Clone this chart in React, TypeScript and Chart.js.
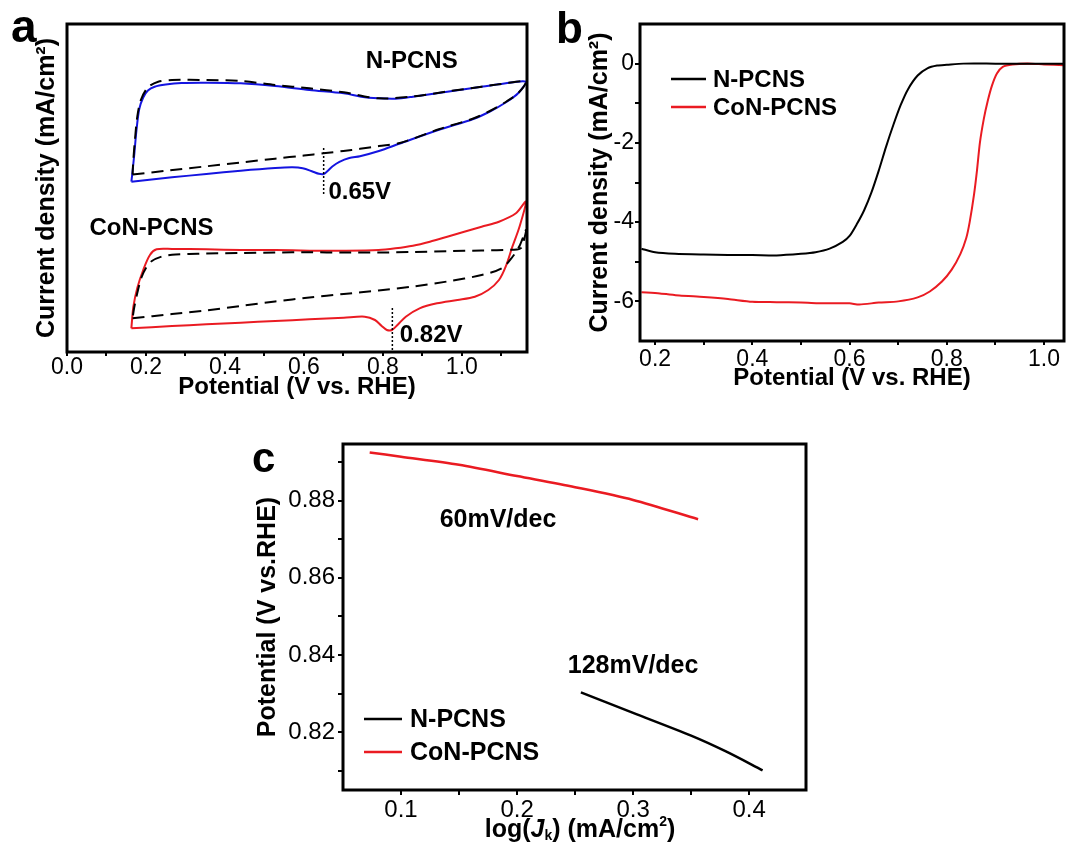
import React, { useEffect, useRef } from 'react';
import { Chart, registerables } from 'chart.js';

Chart.register(...registerables);

const FAMILY = "'Liberation Sans', Arial, Helvetica, sans-serif";
Chart.defaults.font.family = FAMILY;

const RED = '#ea1b22';
const BLUE = '#1414e0';
const BLACK = '#000000';

// ---------------- Panel a: cyclic voltammograms (arbitrary current units) ----------------
const cvNV = [0.163, 0.266, 0.353, 0.440, 0.527, 0.571, 0.597, 0.623, 0.638, 0.650, 0.660, 0.672, 0.690, 0.715, 0.742, 0.790, 0.843, 0.944, 1.029, 1.071, 1.113, 1.143, 1.162, 1.100, 1.050, 0.963, 0.876, 0.832, 0.789, 0.745, 0.701, 0.614, 0.527, 0.440, 0.353, 0.290, 0.250, 0.222, 0.205, 0.193, 0.183, 0.176, 0.170, 0.165, 0.163];
const cvNJ = [0.063, 0.107, 0.140, 0.173, 0.200, 0.207, 0.197, 0.163, 0.142, 0.140, 0.170, 0.215, 0.262, 0.300, 0.318, 0.370, 0.445, 0.585, 0.690, 0.765, 0.860, 0.950, 1.063, 1.040, 1.013, 0.963, 0.913, 0.893, 0.897, 0.913, 0.947, 0.980, 1.020, 1.047, 1.053, 1.050, 1.035, 1.013, 0.975, 0.905, 0.790, 0.580, 0.320, 0.130, 0.063];
const cvNRefV = [0.166, 0.260, 0.353, 0.440, 0.527, 0.600, 0.649, 0.700, 0.742, 0.790, 0.843, 0.944, 1.029, 1.071, 1.113, 1.143, 1.162, 1.100, 1.050, 0.963, 0.876, 0.789, 0.701, 0.614, 0.527, 0.440, 0.353, 0.266, 0.231, 0.205, 0.187, 0.178, 0.172, 0.168, 0.166];
const cvNRefJ = [0.135, 0.176, 0.217, 0.255, 0.293, 0.325, 0.347, 0.370, 0.392, 0.420, 0.450, 0.590, 0.695, 0.770, 0.865, 0.950, 1.063, 1.040, 1.013, 0.965, 0.915, 0.897, 0.957, 0.997, 1.030, 1.070, 1.080, 1.080, 1.063, 1.007, 0.880, 0.713, 0.480, 0.280, 0.135];
const cvCV = [0.163, 0.266, 0.353, 0.440, 0.527, 0.614, 0.701, 0.754, 0.780, 0.797, 0.810, 0.823, 0.837, 0.858, 0.893, 0.937, 0.989, 1.033, 1.067, 1.094, 1.111, 1.128, 1.146, 1.162, 1.137, 1.094, 1.050, 1.006, 0.963, 0.919, 0.876, 0.832, 0.789, 0.701, 0.614, 0.527, 0.440, 0.353, 0.266, 0.227, 0.210, 0.193, 0.178, 0.168, 0.163];
const cvCJ = [-1.403, -1.380, -1.363, -1.347, -1.330, -1.313, -1.297, -1.287, -1.320, -1.380, -1.420, -1.420, -1.370, -1.287, -1.203, -1.153, -1.120, -1.087, -1.020, -0.920, -0.787, -0.587, -0.387, -0.137, -0.253, -0.337, -0.387, -0.437, -0.487, -0.537, -0.577, -0.603, -0.620, -0.627, -0.627, -0.620, -0.620, -0.613, -0.610, -0.613, -0.670, -0.820, -1.000, -1.190, -1.403];
const cvCRefV = [0.166, 0.266, 0.353, 0.440, 0.527, 0.614, 0.701, 0.789, 0.876, 0.963, 1.050, 1.102, 1.128, 1.146, 1.162, 1.150, 1.128, 1.050, 0.963, 0.876, 0.789, 0.701, 0.614, 0.527, 0.440, 0.353, 0.309, 0.266, 0.240, 0.215, 0.200, 0.188, 0.178, 0.170, 0.166];
const cvCRefJ = [-1.303, -1.260, -1.225, -1.180, -1.135, -1.095, -1.060, -1.025, -0.985, -0.935, -0.870, -0.800, -0.690, -0.580, -0.420, -0.600, -0.617, -0.625, -0.632, -0.640, -0.645, -0.645, -0.643, -0.645, -0.650, -0.655, -0.660, -0.668, -0.685, -0.730, -0.800, -0.900, -1.050, -1.200, -1.303];
const peakNV = [0.65, 0.65];
const peakNJ = [0.40, -0.07];
const peakCV = [0.824, 0.824];
const peakCJ = [-1.20, -1.64];
const aXTicks = [0, 0.1, 0.2, 0.3, 0.4, 0.5, 0.6, 0.7, 0.8, 0.9, 1.0, 1.1];
const aXLabels = [0, 0.2, 0.4, 0.6, 0.8, 1.0];
const aTexts = [
  { text: 'N-PCNS', x: 0.873, y: 1.263, align: 'center' },
  { text: '0.65V', x: 0.662, y: -0.045, align: 'left' },
  { text: 'CoN-PCNS', x: 0.214, y: -0.400, align: 'center' },
  { text: '0.82V', x: 0.843, y: -1.470, align: 'left' },
];

// ---------------- Panel b: LSV curves ----------------
const lsvNV = [0.172, 0.200, 0.241, 0.300, 0.350, 0.400, 0.450, 0.500, 0.530, 0.559, 0.586, 0.600, 0.615, 0.630, 0.645, 0.660, 0.675, 0.690, 0.705, 0.720, 0.740, 0.760, 0.780, 0.800, 0.834, 0.900, 1.000, 1.041];
const lsvNJ = [-4.67, -4.76, -4.80, -4.82, -4.83, -4.83, -4.84, -4.80, -4.76, -4.67, -4.50, -4.35, -4.05, -3.70, -3.25, -2.70, -2.10, -1.55, -1.05, -0.65, -0.30, -0.12, -0.05, -0.03, 0.00, 0.00, 0.00, 0.00];
const lsvCV = [0.172, 0.210, 0.250, 0.300, 0.350, 0.400, 0.450, 0.500, 0.550, 0.600, 0.620, 0.660, 0.700, 0.740, 0.765, 0.790, 0.810, 0.828, 0.840, 0.847, 0.856, 0.862, 0.868, 0.876, 0.884, 0.893, 0.903, 0.915, 0.935, 0.966, 1.000, 1.041];
const lsvCJ = [-5.77, -5.80, -5.85, -5.89, -5.94, -6.01, -6.02, -6.03, -6.05, -6.05, -6.08, -6.03, -6.00, -5.90, -5.75, -5.50, -5.20, -4.80, -4.40, -4.00, -3.30, -2.70, -2.00, -1.40, -0.95, -0.55, -0.25, -0.08, -0.02, 0.00, -0.02, -0.04];
const bXTicks = [0.2, 0.3, 0.4, 0.5, 0.6, 0.7, 0.8, 0.9, 1.0];
const bXLabels = [0.2, 0.4, 0.6, 0.8, 1.0];
const bYTicks = [-6, -5, -4, -3, -2, -1, 0];
const bYLabels = [-6, -4, -2, 0];

// ---------------- Panel c: Tafel plots ----------------
const tafNX = [0.255, 0.300, 0.350, 0.380, 0.4116];
const tafNY = [0.8303, 0.8250, 0.8191, 0.8150, 0.8101];
const tafCX = [0.073, 0.100, 0.150, 0.200, 0.250, 0.300, 0.356];
const tafCY = [0.8925, 0.8914, 0.8893, 0.8864, 0.8835, 0.8802, 0.8752];
const cXTicks = [0.1, 0.15, 0.2, 0.25, 0.3, 0.35, 0.4];
const cXLabels = [0.1, 0.2, 0.3, 0.4];
const cYTicks = [0.81, 0.82, 0.83, 0.84, 0.85, 0.86, 0.87, 0.88, 0.89];
const cYLabels = [0.82, 0.84, 0.86, 0.88];
const cTexts = [
  { text: '60mV/dec', x: 0.1836, y: 0.8750, align: 'center' },
  { text: '128mV/dec', x: 0.300, y: 0.8372, align: 'center' },
];

const seriesNames = ['N-PCNS', 'CoN-PCNS'];

// ---------------- helpers ----------------
const zip = (xs: number[], ys: number[]) => xs.map((x, i) => ({ x, y: ys[i] }));
const has = (arr: number[], v: number) => arr.some((l) => Math.abs(l - v) < 1e-9);

type AxisOpts = {
  position: 'left' | 'bottom';
  min: number;
  max: number;
  ticks: number[];
  labels: number[];
  fmt: (v: number) => string;
  box: number;
  tickLen: number;
  pad: number;
  showTicks: boolean;
  fontSize: number;
  title?: { text: string; size: number; pad: number };
};

function axis(o: AxisOpts) {
  return {
    type: 'linear',
    position: o.position,
    min: o.min,
    max: o.max,
    afterBuildTicks: (s: any) => {
      s.ticks = o.ticks.map((v) => ({ value: v }));
    },
    afterFit: (s: any) => {
      if (o.position === 'bottom') s.height = o.box;
      else s.width = o.box;
    },
    grid: {
      display: o.showTicks,
      drawOnChartArea: false,
      drawTicks: true,
      tickLength: o.tickLen,
      color: BLACK,
      lineWidth: 2,
    },
    border: { display: false },
    ticks: {
      display: o.showTicks,
      autoSkip: false,
      maxRotation: 0,
      minRotation: 0,
      padding: o.pad,
      color: BLACK,
      font: { family: FAMILY, size: o.fontSize, lineHeight: 1 },
      callback: (v: any) => (has(o.labels, Number(v)) ? o.fmt(Number(v)) : ''),
    },
    title: o.title
      ? {
          display: true,
          text: o.title.text,
          color: BLACK,
          font: { family: FAMILY, size: o.title.size, weight: 'bold', lineHeight: 1.2 },
          padding: o.position === 'bottom' ? { top: 0, bottom: o.title.pad } : { top: o.title.pad, bottom: 0 },
        }
      : { display: false },
  };
}

type Decor = {
  letter: { text: string; x: number; y: number; size: number };
  texts?: { text: string; x: number; y: number; align: string }[];
  textSize?: number;
  legend?: { colors: string[]; x0: number; x1: number; tx: number; ys: number[]; size: number };
  rich?: { segs: { text: string; size: number; italic?: boolean; dy?: number }[]; cx: number; base: number };
};

function makeDecor(d: Decor) {
  return {
    id: 'decor',
    afterDraw(chart: any) {
      const { ctx, chartArea: ca, scales } = chart;
      ctx.save();
      ctx.strokeStyle = BLACK;
      ctx.lineWidth = 3;
      ctx.strokeRect(ca.left, ca.top, ca.right - ca.left, ca.bottom - ca.top);
      ctx.fillStyle = BLACK;
      ctx.textBaseline = 'middle';
      for (const t of d.texts || []) {
        ctx.font = `bold ${d.textSize || 24}px ${FAMILY}`;
        ctx.textAlign = t.align;
        ctx.fillText(t.text, scales.x.getPixelForValue(t.x), scales.y.getPixelForValue(t.y));
      }
      if (d.legend) {
        const L = d.legend;
        L.ys.forEach((y, i) => {
          ctx.strokeStyle = L.colors[i];
          ctx.lineWidth = 2.5;
          ctx.beginPath();
          ctx.moveTo(L.x0, y);
          ctx.lineTo(L.x1, y);
          ctx.stroke();
          ctx.fillStyle = BLACK;
          ctx.font = `bold ${L.size}px ${FAMILY}`;
          ctx.textAlign = 'left';
          ctx.textBaseline = 'middle';
          ctx.fillText(seriesNames[i], L.tx, y + 1);
        });
      }
      if (d.rich) {
        const R = d.rich;
        const fonts = R.segs.map((s) => `${s.italic ? 'italic ' : ''}bold ${s.size}px ${FAMILY}`);
        const widths = R.segs.map((s, i) => {
          ctx.font = fonts[i];
          return ctx.measureText(s.text).width;
        });
        let x = R.cx - widths.reduce((a, b) => a + b, 0) / 2;
        ctx.textAlign = 'left';
        ctx.textBaseline = 'alphabetic';
        ctx.fillStyle = BLACK;
        R.segs.forEach((s, i) => {
          ctx.font = fonts[i];
          ctx.fillText(s.text, x, R.base + (s.dy || 0));
          x += widths[i];
        });
      }
      ctx.font = `bold ${d.letter.size}px ${FAMILY}`;
      ctx.textAlign = 'left';
      ctx.textBaseline = 'alphabetic';
      ctx.fillStyle = BLACK;
      ctx.fillText(d.letter.text, d.letter.x, d.letter.y);
      ctx.restore();
    },
  };
}

function line(data: { x: number; y: number }[], color: string, width: number, extra: any = {}) {
  return {
    data,
    borderColor: color,
    backgroundColor: color,
    borderWidth: width,
    pointRadius: 0,
    fill: false,
    ...extra,
  };
}

const baseOptions = (padding: any, scales: any) => ({
  responsive: false,
  maintainAspectRatio: false,
  animation: false,
  events: [],
  layout: { padding },
  plugins: { legend: { display: false }, tooltip: { enabled: false }, title: { display: false } },
  scales,
});

function configA() {
  return {
    type: 'line',
    data: {
      datasets: [
        line(zip(cvNRefV, cvNRefJ), BLACK, 2, { borderDash: [12, 7], tension: 0.3, order: 0 }),
        line(zip(cvCRefV, cvCRefJ), BLACK, 2, { borderDash: [12, 7], tension: 0.3, order: 0 }),
        line(zip(peakNV, peakNJ), BLACK, 1.5, { borderDash: [2, 2], order: 0 }),
        line(zip(peakCV, peakCJ), BLACK, 1.5, { borderDash: [2, 2], order: 0 }),
        line(zip(cvNV, cvNJ), BLUE, 2, { tension: 0.3, order: 1 }),
        line(zip(cvCV, cvCJ), RED, 2, { tension: 0.3, order: 1 }),
      ],
    },
    options: baseOptions(
      { left: 0, top: 24, right: 13, bottom: 0 },
      {
        x: axis({
          position: 'bottom', min: 0, max: 1.165, ticks: aXTicks, labels: aXLabels,
          fmt: (v) => v.toFixed(1), box: 58, tickLen: 4, pad: 0, showTicks: true, fontSize: 23,
          title: { text: 'Potential (V vs. RHE)', size: 24, pad: 8 },
        }),
        y: axis({
          position: 'left', min: -1.64, max: 1.64, ticks: [], labels: [],
          fmt: (v) => String(v), box: 67, tickLen: 0, pad: 0, showTicks: false, fontSize: 23,
          title: { text: 'Current density (mA/cm²)', size: 25, pad: 32 },
        }),
      }
    ),
    plugins: [
      makeDecor({ letter: { text: 'a', x: 11, y: 42, size: 46 }, texts: aTexts, textSize: 24 }),
    ],
  };
}

function configB() {
  return {
    type: 'line',
    data: {
      datasets: [
        line(zip(lsvNV, lsvNJ), BLACK, 2, { tension: 0.25 }),
        line(zip(lsvCV, lsvCJ), RED, 2, { tension: 0.25 }),
      ],
    },
    options: baseOptions(
      { left: 0, top: 24, right: 3, bottom: 0 },
      {
        x: axis({
          position: 'bottom', min: 0.169, max: 1.041, ticks: bXTicks, labels: bXLabels,
          fmt: (v) => v.toFixed(1), box: 69, tickLen: 4, pad: 3, showTicks: true, fontSize: 23,
          title: { text: 'Potential (V vs. RHE)', size: 24, pad: 17 },
        }),
        y: axis({
          position: 'left', min: -7, max: 1, ticks: bYTicks, labels: bYLabels,
          fmt: (v) => String(v), box: 100, tickLen: 5, pad: 1, showTicks: true, fontSize: 23,
          title: { text: 'Current density (mA/cm²)', size: 25, pad: 45 },
        }),
      }
    ),
    plugins: [
      makeDecor({
        letter: { text: 'b', x: 16, y: 43, size: 44 },
        legend: { colors: [BLACK, RED], x0: 131, x1: 166, tx: 173, ys: [79, 107], size: 24 },
      }),
    ],
  };
}

function configC() {
  return {
    type: 'line',
    data: {
      datasets: [
        line(zip(tafNX, tafNY), BLACK, 2.5, { tension: 0.3 }),
        line(zip(tafCX, tafCY), RED, 2.5, { tension: 0.3 }),
      ],
    },
    options: baseOptions(
      { left: 0, top: 24, right: 14, bottom: 0 },
      {
        x: axis({
          position: 'bottom', min: 0.05, max: 0.449, ticks: cXTicks, labels: cXLabels,
          fmt: (v) => v.toFixed(1), box: 62, tickLen: 5, pad: 3, showTicks: true, fontSize: 24,
        }),
        y: axis({
          position: 'left', min: 0.805, max: 0.8947, ticks: cYTicks, labels: cYLabels,
          fmt: (v) => v.toFixed(2), box: 103, tickLen: 5, pad: 3, showTicks: true, fontSize: 24,
          title: { text: 'Potential (V vs.RHE)', size: 25, pad: 13 },
        }),
      }
    ),
    plugins: [
      makeDecor({
        letter: { text: 'c', x: 12, y: 52, size: 42 },
        texts: cTexts,
        textSize: 25,
        legend: { colors: [BLACK, RED], x0: 124, x1: 162, tx: 170, ys: [299, 332], size: 25 },
        rich: {
          cx: 340,
          base: 417,
          segs: [
            { text: 'log(', size: 25 },
            { text: 'J', size: 25, italic: true },
            { text: 'k', size: 14, dy: 3 },
            { text: ') (mA/cm', size: 25 },
            { text: '2', size: 14, dy: -11 },
            { text: ')', size: 25 },
          ],
        },
      }),
    ],
  };
}

function ChartCanvas(props: { make: () => any; left: number; top: number; width: number; height: number }) {
  const ref = useRef<HTMLCanvasElement | null>(null);
  useEffect(() => {
    const chart = new Chart(ref.current as HTMLCanvasElement, props.make());
    return () => chart.destroy();
  }, []);
  return (
    <canvas
      ref={ref}
      width={props.width}
      height={props.height}
      style={{ position: 'absolute', left: props.left, top: props.top, width: props.width, height: props.height }}
    />
  );
}

export default function App() {
  useEffect(() => {
    document.body.style.margin = '0';
    document.body.style.background = '#ffffff';
  }, []);
  return (
    <div style={{ position: 'relative', width: 1067, height: 852, background: '#ffffff', overflow: 'hidden' }}>
      <ChartCanvas make={configA} left={0} top={0} width={540} height={410} />
      <ChartCanvas make={configB} left={540} top={0} width={527} height={410} />
      <ChartCanvas make={configC} left={240} top={420} width={580} height={432} />
    </div>
  );
}
